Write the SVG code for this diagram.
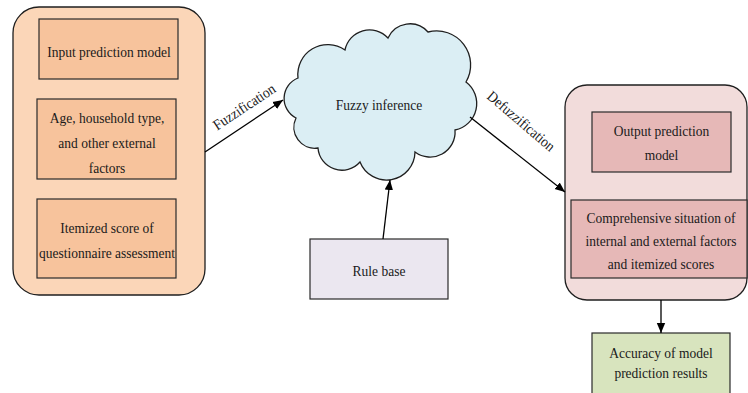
<svg xmlns="http://www.w3.org/2000/svg" width="748" height="393" viewBox="0 0 748 393">
  <style>
    text { font-family: 'Liberation Serif', 'DejaVu Serif', 'Times New Roman', serif; font-size: 15px; fill: #1a1a1a; text-anchor: middle; }
    .frame { stroke: #1f1f1f; stroke-width: 1.3; }
    .box { stroke: #2a2a2a; stroke-width: 1.2; }
    .link { stroke: #000; stroke-width: 1.3; fill: none; marker-end: url(#arrow); }
  </style>
  <defs>
    <marker id="arrow" viewBox="0 0 10 10" refX="10" refY="5" markerWidth="10" markerHeight="10" markerUnits="userSpaceOnUse" orient="auto">
      <path d="M0,0.8 L10,5 L0,9.2 Z" fill="#000"/>
    </marker>
  </defs>
  <rect width="748" height="393" fill="#ffffff"/>

  <!-- input side -->
  <g id="inputs">
    <rect class="frame" x="13" y="7" width="192" height="288" rx="26" fill="#FBD6B8"/>
    <g id="input-model">
      <rect class="box" x="39" y="19" width="139" height="60" fill="#F7C39C"/>
      <text transform="translate(109,57) scale(0.9,1)">Input prediction model</text>
    </g>
    <g id="external-factors">
      <rect class="box" x="37" y="99" width="139" height="80" fill="#F7C39C"/>
      <text transform="translate(107,123) scale(0.9,1)">Age, household type,</text>
      <text transform="translate(107,148) scale(0.9,1)">and other external</text>
      <text transform="translate(107,173) scale(0.9,1)">factors</text>
    </g>
    <g id="itemized-score">
      <rect class="box" x="37" y="199" width="139" height="79" fill="#F7C39C"/>
      <text transform="translate(107,233) scale(0.9,1)">Itemized score of</text>
      <text transform="translate(107,258) scale(0.9,1)">questionnaire assessment</text>
    </g>
  </g>

  <!-- inference cloud -->
  <g id="fuzzy-inference">
    <path class="frame" fill="#DBEEF4" d="M298,78 A30,30 0 0 1 345,50 A25,25 0 0 1 388,38 A24,24 0 0 1 428,32 A34,34 0 0 1 466,82 A27,27 0 0 1 455,130 A25,25 0 0 1 415,152 A28.5,28.5 0 0 1 360,162 A24,24 0 0 1 318,148 A21,21 0 0 1 296,118 A22,22 0 0 1 298,78 Z"/>
    <text transform="translate(379,110) scale(0.9,1)">Fuzzy inference</text>
  </g>

  <!-- rules -->
  <g id="rule-base">
    <rect class="box" x="310" y="239" width="138" height="60" fill="#EBE7F0"/>
    <text transform="translate(379,276) scale(0.9,1)">Rule base</text>
  </g>

  <!-- output side -->
  <g id="outputs">
    <rect class="frame" x="565" y="85" width="182" height="215" rx="22" fill="#F2DCDB"/>
    <g id="output-model">
      <rect class="box" x="592" y="112" width="139" height="60" fill="#E6B8B7"/>
      <text transform="translate(661.5,136) scale(0.9,1)">Output prediction</text>
      <text transform="translate(661.5,160) scale(0.9,1)">model</text>
    </g>
    <g id="combined-situation">
      <rect class="box" x="571" y="200" width="176" height="78" fill="#E6B8B7"/>
      <text transform="translate(661,223) scale(0.9,1)">Comprehensive situation of</text>
      <text transform="translate(661,246) scale(0.9,1)">internal and external factors</text>
      <text transform="translate(661,269) scale(0.9,1)">and itemized scores</text>
    </g>
  </g>

  <g id="accuracy">
    <rect class="box" x="592" y="333" width="138" height="70" fill="#D8E4BE"/>
    <text transform="translate(661,358) scale(0.9,1)">Accuracy of model</text>
    <text transform="translate(661,378) scale(0.9,1)">prediction results</text>
  </g>

  <!-- connectors -->
  <g id="connectors">
    <line class="link" x1="205" y1="152" x2="283" y2="100"/>
    <line class="link" x1="470" y1="117" x2="565" y2="192"/>
    <line class="link" x1="383" y1="239" x2="390" y2="180"/>
    <line class="link" x1="661" y1="300" x2="661" y2="333"/>
    <text transform="translate(247,111) rotate(-33.5) scale(0.9,1)">Fuzzification</text>
    <text transform="translate(518,125) rotate(40.5) scale(0.9,1)">Defuzzification</text>
  </g>
</svg>
